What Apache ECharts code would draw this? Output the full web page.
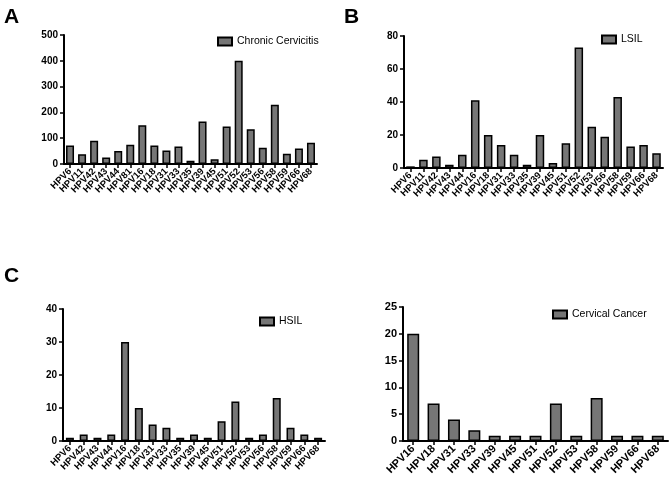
<!DOCTYPE html>
<html><head><meta charset="utf-8">
<script src="https://cdn.jsdelivr.net/npm/echarts@6/dist/echarts.min.js"></script>
<style>html,body{margin:0;padding:0;background:#fff}#c{width:669px;height:480px}</style>
</head><body><div id="c"></div>
<script>
const catsA = ['HPV6','HPV11','HPV42','HPV43','HPV44','HPV81','HPV16','HPV18','HPV31','HPV33','HPV35','HPV39','HPV45','HPV51','HPV52','HPV53','HPV56','HPV58','HPV59','HPV66','HPV68'];
const valsA = [72,38,90,25,50,75,150,72,52,68,13,165,18,145,400,135,63,230,40,60,82];
const catsB = ['HPV6','HPV11','HPV42','HPV43','HPV44','HPV16','HPV18','HPV31','HPV33','HPV35','HPV39','HPV45','HPV51','HPV52','HPV53','HPV56','HPV58','HPV59','HPV66','HPV68'];
const valsB = [1,5,7,2,8,41,20,14,8,2,20,3,15,73,25,19,43,13,14,9];
const catsC = ['HPV6','HPV42','HPV43','HPV44','HPV16','HPV18','HPV31','HPV33','HPV35','HPV39','HPV45','HPV51','HPV52','HPV53','HPV56','HPV58','HPV59','HPV66','HPV68'];
const valsC = [1,2,1,2,30,10,5,4,1,2,1,6,12,1,2,13,4,2,1];
const catsD = ['HPV16','HPV18','HPV31','HPV33','HPV39','HPV45','HPV51','HPV52','HPV53','HPV58','HPV59','HPV66','HPV68'];
const valsD = [20,7,4,2,1,1,1,7,1,8,1,1,1];
const names = ['Chronic Cervicitis','LSIL','HSIL','Cervical Cancer'];
const yMax = [500,80,40,25];
const yInt = [100,20,10,5];

const F = 'Liberation Sans, Arial, sans-serif';
const grids = [
  {left:64, top:35, width:253, height:129},
  {left:404, top:36, width:259, height:132},
  {left:63, top:309, width:262, height:132},
  {left:403, top:307, width:265, height:134}
];
const cats = [catsA,catsB,catsC,catsD];
const vals = [valsA,valsB,valsC,valsD];
const barW = [8,8.5,8,12];
const xFont = [9.5,9.5,9.5,11];
const yFont = [10,10,10,11];
const legPos = [{left:212,top:31},{left:596,top:29},{left:254,top:311},{left:547,top:304}];
const axisLine = {show:true, lineStyle:{color:'#000', width:2}};
const itemStyle = {color:'#767676', borderColor:'#000', borderWidth:1.5};

const option = {
  animation:false,
  grid: grids,
  xAxis: cats.map((c,i)=>({type:'category', gridIndex:i, data:c,
    axisLine, axisTick:{show:true, alignWithLabel:true, length:4, lineStyle:{color:'#000',width:1.5}},
    axisLabel:{rotate:45, interval:0, fontFamily:F, fontWeight:'bold', fontSize:xFont[i], color:'#000', margin:6}})),
  yAxis: yMax.map((m,i)=>({type:'value', gridIndex:i, min:0, max:m, interval:yInt[i],
    axisLine, axisTick:{show:true, length:4, lineStyle:{color:'#000',width:1.5}},
    splitLine:{show:false},
    axisLabel:{fontFamily:F, fontWeight:'bold', fontSize:yFont[i], color:'#000', margin:6}})),
  legend: names.map((n,i)=>({data:[n], left:legPos[i].left, top:legPos[i].top, itemWidth:14, itemHeight:8, itemGap:6,
    textStyle:{fontFamily:F, fontSize:10.5, color:'#000'}, icon:'rect'})),
  series: vals.map((v,i)=>({type:'bar', name:names[i], xAxisIndex:i, yAxisIndex:i, data:v, barWidth:barW[i], itemStyle})),
  graphic: [
    {type:'text', left:4, top:7, style:{text:'A', font:'bold 21px '+F, fill:'#000'}},
    {type:'text', left:344, top:7, style:{text:'B', font:'bold 21px '+F, fill:'#000'}},
    {type:'text', left:4, top:266, style:{text:'C', font:'bold 21px '+F, fill:'#000'}}
  ]
};
echarts.init(document.getElementById('c')).setOption(option);
</script></body></html>
